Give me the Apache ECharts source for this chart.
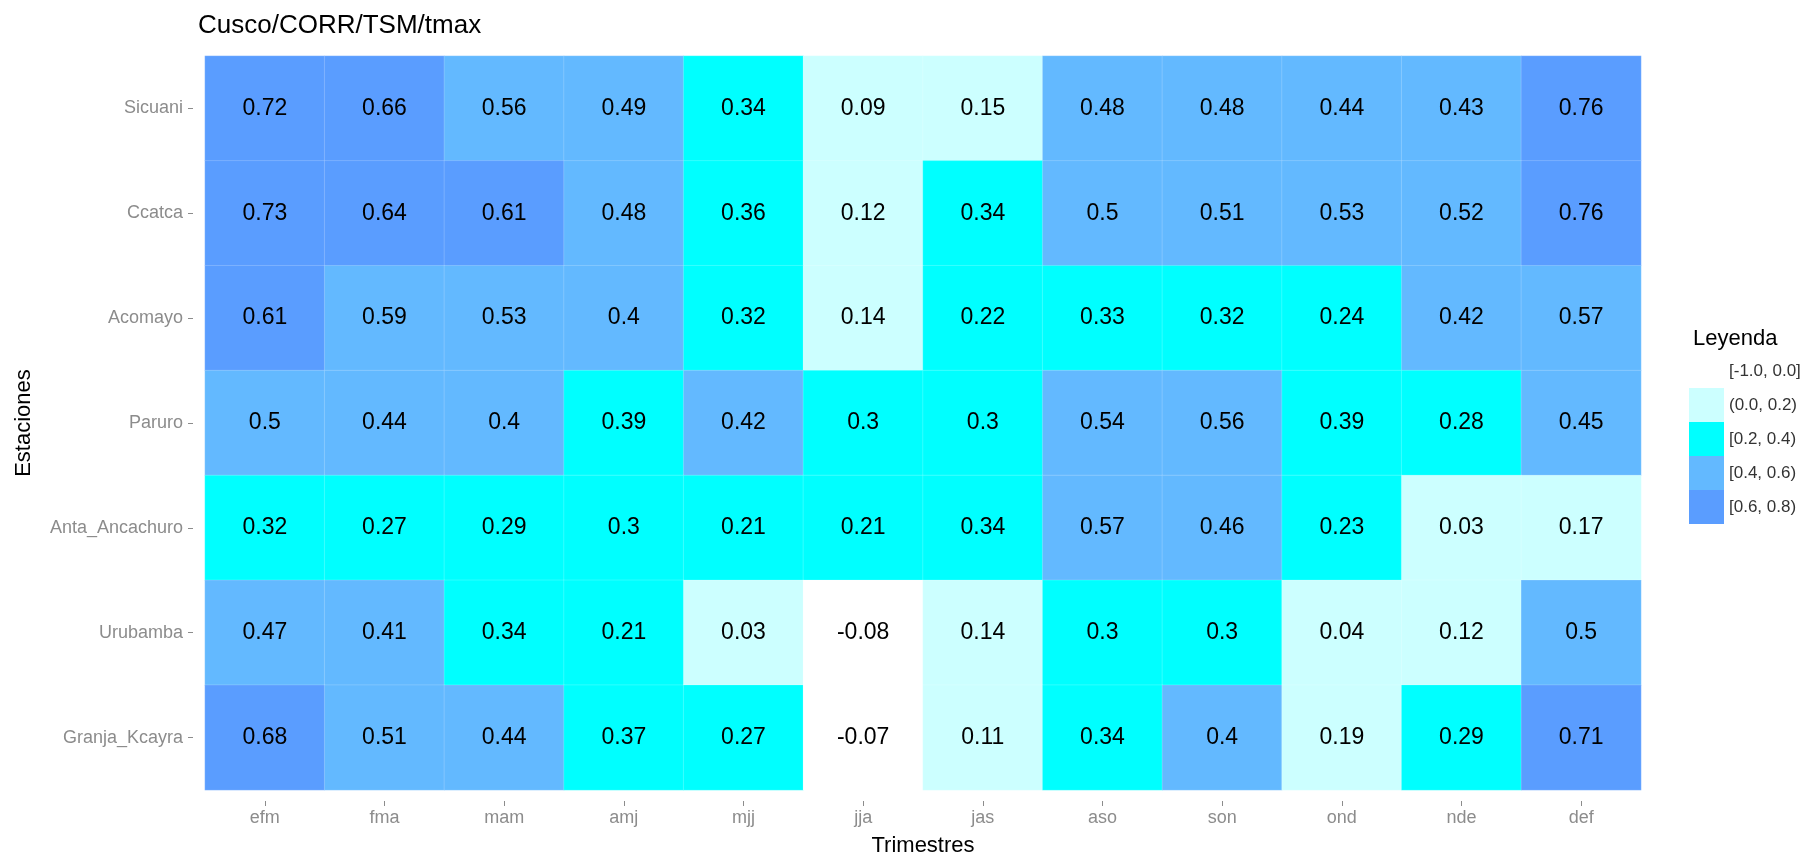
<!DOCTYPE html>
<html>
<head>
<meta charset="utf-8">
<title>Cusco/CORR/TSM/tmax</title>
<script src="https://cdn.jsdelivr.net/npm/echarts@6/dist/echarts.min.js"></script>
<style>
  html, body { margin: 0; padding: 0; background: #ffffff; }
  #chart { width: 1811px; height: 862px; }
</style>
</head>
<body>
<div id="chart"></div>
<script>
// Trimesters (columns) and stations (rows, top to bottom)
const trimestres = ['efm', 'fma', 'mam', 'amj', 'mjj', 'jja', 'jas', 'aso', 'son', 'ond', 'nde', 'def'];
const estaciones = ['Sicuani', 'Ccatca', 'Acomayo', 'Paruro', 'Anta_Ancachuro', 'Urubamba', 'Granja_Kcayra'];

// Correlation of SST with tmax, one array per station
const sicuani      = [0.72, 0.66, 0.56, 0.49, 0.34, 0.09, 0.15, 0.48, 0.48, 0.44, 0.43, 0.76];
const ccatca       = [0.73, 0.64, 0.61, 0.48, 0.36, 0.12, 0.34, 0.5, 0.51, 0.53, 0.52, 0.76];
const acomayo      = [0.61, 0.59, 0.53, 0.4, 0.32, 0.14, 0.22, 0.33, 0.32, 0.24, 0.42, 0.57];
const paruro       = [0.5, 0.44, 0.4, 0.39, 0.42, 0.3, 0.3, 0.54, 0.56, 0.39, 0.28, 0.45];
const antaAncachuro = [0.32, 0.27, 0.29, 0.3, 0.21, 0.21, 0.34, 0.57, 0.46, 0.23, 0.03, 0.17];
const urubamba     = [0.47, 0.41, 0.34, 0.21, 0.03, -0.08, 0.14, 0.3, 0.3, 0.04, 0.12, 0.5];
const granjaKcayra = [0.68, 0.51, 0.44, 0.37, 0.27, -0.07, 0.11, 0.34, 0.4, 0.19, 0.29, 0.71];

const filas = [sicuani, ccatca, acomayo, paruro, antaAncachuro, urubamba, granjaKcayra];

// Legend classes
const clases = [
  { gte: -1.0, lte: 0.0, label: '[-1.0, 0.0]', color: '#ffffff' },
  { gt: 0.0, lt: 0.2, label: '(0.0, 0.2)', color: '#ccffff' },
  { gte: 0.2, lt: 0.4, label: '[0.2, 0.4)', color: '#00ffff' },
  { gte: 0.4, lt: 0.6, label: '[0.4, 0.6)', color: '#63b9ff' },
  { gte: 0.6, lt: 0.8, label: '[0.6, 0.8)', color: '#5a9dff' }
];

const datos = [];
filas.forEach(function (fila, y) {
  fila.forEach(function (v, x) { datos.push([x, y, v]); });
});

const FONT = '"Liberation Sans", Arial, Helvetica, sans-serif';

const chart = echarts.init(document.getElementById('chart'), null, { renderer: 'canvas' });

chart.setOption({
  backgroundColor: '#ffffff',
  animation: false,
  textStyle: { fontFamily: FONT },
  title: [
    {
      text: 'Cusco/CORR/TSM/tmax',
      left: 193, top: 8,
      textStyle: { fontFamily: FONT, fontSize: 26, fontWeight: 'normal', color: '#000000' }
    },
    {
      text: 'Leyenda',
      left: 1688, top: 323,
      textStyle: { fontFamily: FONT, fontSize: 22, fontWeight: 'normal', color: '#000000' }
    }
  ],
  grid: { left: 205, top: 56, width: 1436, height: 740, containLabel: false },
  xAxis: {
    type: 'category',
    data: trimestres,
    position: 'bottom',
    offset: 11,
    name: 'Trimestres',
    nameLocation: 'middle',
    nameGap: 34,
    nameTextStyle: { fontFamily: FONT, fontSize: 22, color: '#000000' },
    axisLine: { show: false },
    axisTick: { show: true, alignWithLabel: true, length: 5, lineStyle: { color: '#8c8c8c', width: 1 } },
    axisLabel: { fontFamily: FONT, fontSize: 18, color: '#8c8c8c', margin: 8 },
    splitLine: { show: false },
    splitArea: { show: false }
  },
  yAxis: {
    type: 'category',
    data: estaciones,
    inverse: true,
    offset: 12,
    name: 'Estaciones',
    nameLocation: 'middle',
    nameGap: 158,
    nameTextStyle: { fontFamily: FONT, fontSize: 22, color: '#000000' },
    axisLine: { show: false },
    axisTick: { show: true, alignWithLabel: true, length: 5, lineStyle: { color: '#8c8c8c', width: 1 } },
    axisLabel: { fontFamily: FONT, fontSize: 18, color: '#8c8c8c', margin: 10 },
    splitLine: { show: false },
    splitArea: { show: false }
  },
  visualMap: {
    type: 'piecewise',
    dimension: 2,
    pieces: clases.map(function (c) {
      const p = { label: c.label, color: c.color };
      ['gt', 'gte', 'lt', 'lte'].forEach(function (k) { if (k in c) p[k] = c[k]; });
      return p;
    }),
    orient: 'vertical',
    inverse: true,
    align: 'left',
    left: 1689,
    top: 354,
    padding: 0,
    itemWidth: 35,
    itemHeight: 34,
    itemGap: 0,
    itemSymbol: 'rect',
    textGap: 5,
    selectedMode: false,
    hoverLink: false,
    textStyle: { fontFamily: FONT, fontSize: 17, color: '#333333' }
  },
  series: [{
    type: 'heatmap',
    data: datos,
    itemStyle: { borderColor: 'rgba(255,255,255,0.35)', borderWidth: 0.5 },
    label: {
      show: true,
      fontFamily: FONT,
      fontSize: 23,
      color: '#000000',
      formatter: function (p) { return String(p.value[2]); }
    },
    emphasis: { disabled: true }
  }]
});
</script>
</body>
</html>
